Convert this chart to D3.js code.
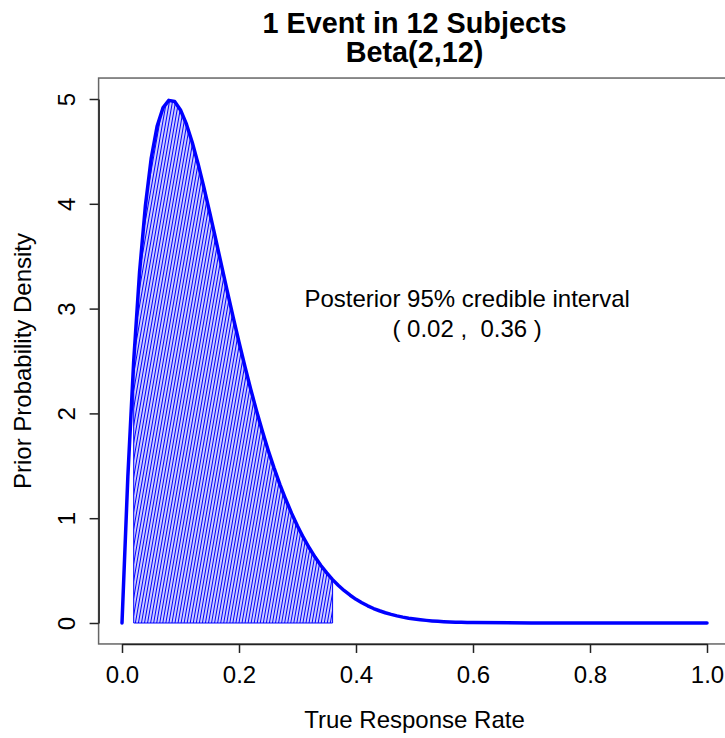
<!DOCTYPE html>
<html>
<head>
<meta charset="utf-8">
<script src="https://cdn.jsdelivr.net/npm/d3@7"></script>
<style>
  body { margin: 0; background: #fff; }
  text { font-family: "Liberation Sans", Arial, sans-serif; }
</style>
</head>
<body>
<div id="chart"></div>
<script>
// Beta(2,12) density
const rateX = [0, 0.01, 0.02, 0.03, 0.04, 0.05, 0.06, 0.07, 0.08, 0.09,
  0.10, 0.11, 0.12, 0.13, 0.14, 0.15, 0.16, 0.17, 0.18, 0.19,
  0.20, 0.21, 0.22, 0.23, 0.24, 0.25, 0.26, 0.27, 0.28, 0.29,
  0.30, 0.31, 0.32, 0.33, 0.34, 0.35, 0.36, 0.37, 0.38, 0.39,
  0.40, 0.41, 0.42, 0.43, 0.44, 0.45, 0.46, 0.47, 0.48, 0.49,
  0.50, 0.51, 0.52, 0.53, 0.54, 0.55, 0.56, 0.57, 0.58, 0.59,
  0.60, 0.70, 0.80, 0.90, 1.00];
const density = [0, 1.397, 2.498, 3.348, 3.982, 4.437, 4.739, 4.915, 4.987, 4.976,
  4.895, 4.762, 4.588, 4.383, 4.156, 3.915, 3.667, 3.415, 3.165, 2.919,
  2.680, 2.450, 2.231, 2.024, 1.829, 1.647, 1.478, 1.321, 1.178, 1.046,
  0.925, 0.816, 0.718, 0.629, 0.549, 0.478, 0.414, 0.358, 0.308, 0.265,
  0.226, 0.193, 0.164, 0.138, 0.117, 0.098, 0.082, 0.068, 0.056, 0.046,
  0.038, 0.031, 0.025, 0.020, 0.016, 0.013, 0.010, 0.008, 0.006, 0.005,
  0.004, 0, 0, 0, 0];
const interval = [0.02, 0.36];
const xTicks = [0, 0.2, 0.4, 0.6, 0.8, 1.0];
const yTicks = [0, 1, 2, 3, 4, 5];
const titleLines = ["1 Event in 12 Subjects", "Beta(2,12)"];
const noteLines = ["Posterior 95% credible interval", "( 0.02 ,  0.36 )"];

const W = 725, H = 738;

const x = d3.scaleLinear().domain([0, 1]).range([122, 707]);
const y = d3.scaleLinear().domain([0, 5]).range([623, 99]);

const svg = d3.select("#chart").append("svg")
  .attr("width", W)
  .attr("height", H);

const blue = "#0000ff";

// hatch pattern for the interval
svg.append("defs").append("pattern")
  .attr("id", "hatch")
  .attr("patternUnits", "userSpaceOnUse")
  .attr("width", 3)
  .attr("height", 20)
  .attr("patternTransform", "rotate(10)")
  .append("line")
  .attr("x1", 1.5).attr("x2", 1.5)
  .attr("y1", 0).attr("y2", 20)
  .attr("stroke", blue)
  .attr("stroke-width", 1.4);

// plot box (R xlim/ylim padded by 4%)
const bx0 = x(-0.04), bx1 = x(1.04), by0 = y(-0.2), by1 = y(5.2);
svg.append("rect")
  .attr("x", bx0).attr("y", by1)
  .attr("width", bx1 - bx0).attr("height", by0 - by1)
  .attr("fill", "none")
  .attr("stroke", "#666")
  .attr("stroke-width", 1.5);

const pts = rateX.map((d, i) => [d, density[i]]);

// shaded interval polygon
const shade = [[interval[0], 0]]
  .concat(pts.filter(p => p[0] >= interval[0] && p[0] <= interval[1]))
  .concat([[interval[1], 0]]);

svg.append("path")
  .datum(shade)
  .attr("d", d => "M" + d.map(p => x(p[0]) + "," + y(p[1])).join("L") + "Z")
  .attr("fill", "url(#hatch)")
  .attr("stroke", blue)
  .attr("stroke-width", 1);

// density curve
svg.append("path")
  .datum(pts)
  .attr("d", d3.line().x(d => x(d[0])).y(d => y(d[1])))
  .attr("fill", "none")
  .attr("stroke", blue)
  .attr("stroke-width", 3.5)
  .attr("stroke-linejoin", "round")
  .attr("stroke-linecap", "round");

// axes
const xAxis = svg.append("g")
  .attr("transform", "translate(0," + by0 + ")")
  .call(d3.axisBottom(x).tickValues(xTicks).tickFormat(d3.format(".1f"))
    .tickSize(9).tickSizeOuter(0).tickPadding(13));
xAxis.selectAll("text").attr("font-size", 24).attr("fill", "#000")
  .attr("font-family", "Liberation Sans, Arial, sans-serif");

const yAxis = svg.append("g")
  .attr("transform", "translate(" + bx0 + ",0)")
  .call(d3.axisLeft(y).tickValues(yTicks).tickFormat(d3.format("d"))
    .tickSize(9).tickSizeOuter(0));
yAxis.selectAll("text")
  .attr("font-size", 24).attr("fill", "#000")
  .attr("font-family", "Liberation Sans, Arial, sans-serif")
  .attr("x", 0).attr("dy", 0).attr("y", -24)
  .attr("text-anchor", "middle")
  .attr("transform", "rotate(-90)");

svg.selectAll(".domain, .tick line").attr("stroke", "#222").attr("stroke-width", 1.5);

// titles
svg.selectAll(".title")
  .data(titleLines)
  .join("text")
  .attr("class", "title")
  .attr("x", (bx0 + bx1) / 2)
  .attr("y", (d, i) => 33 + i * 29)
  .attr("text-anchor", "middle")
  .attr("font-size", 28.8)
  .attr("font-weight", "bold")
  .text(d => d);

svg.append("text")
  .attr("x", (bx0 + bx1) / 2)
  .attr("y", 728)
  .attr("text-anchor", "middle")
  .attr("font-size", 24)
  .text("True Response Rate");

svg.append("text")
  .attr("transform", "translate(31," + (by0 + by1) / 2 + ") rotate(-90)")
  .attr("text-anchor", "middle")
  .attr("font-size", 24)
  .text("Prior Probability Density");

// note
svg.selectAll(".note")
  .data(noteLines)
  .join("text")
  .attr("class", "note")
  .attr("x", x(0.59))
  .attr("y", (d, i) => y(3.1 - i * 0.29) + 8.5)
  .attr("text-anchor", "middle")
  .attr("font-size", 24)
  .style("white-space", "pre")
  .text(d => d);
</script>
</body>
</html>
